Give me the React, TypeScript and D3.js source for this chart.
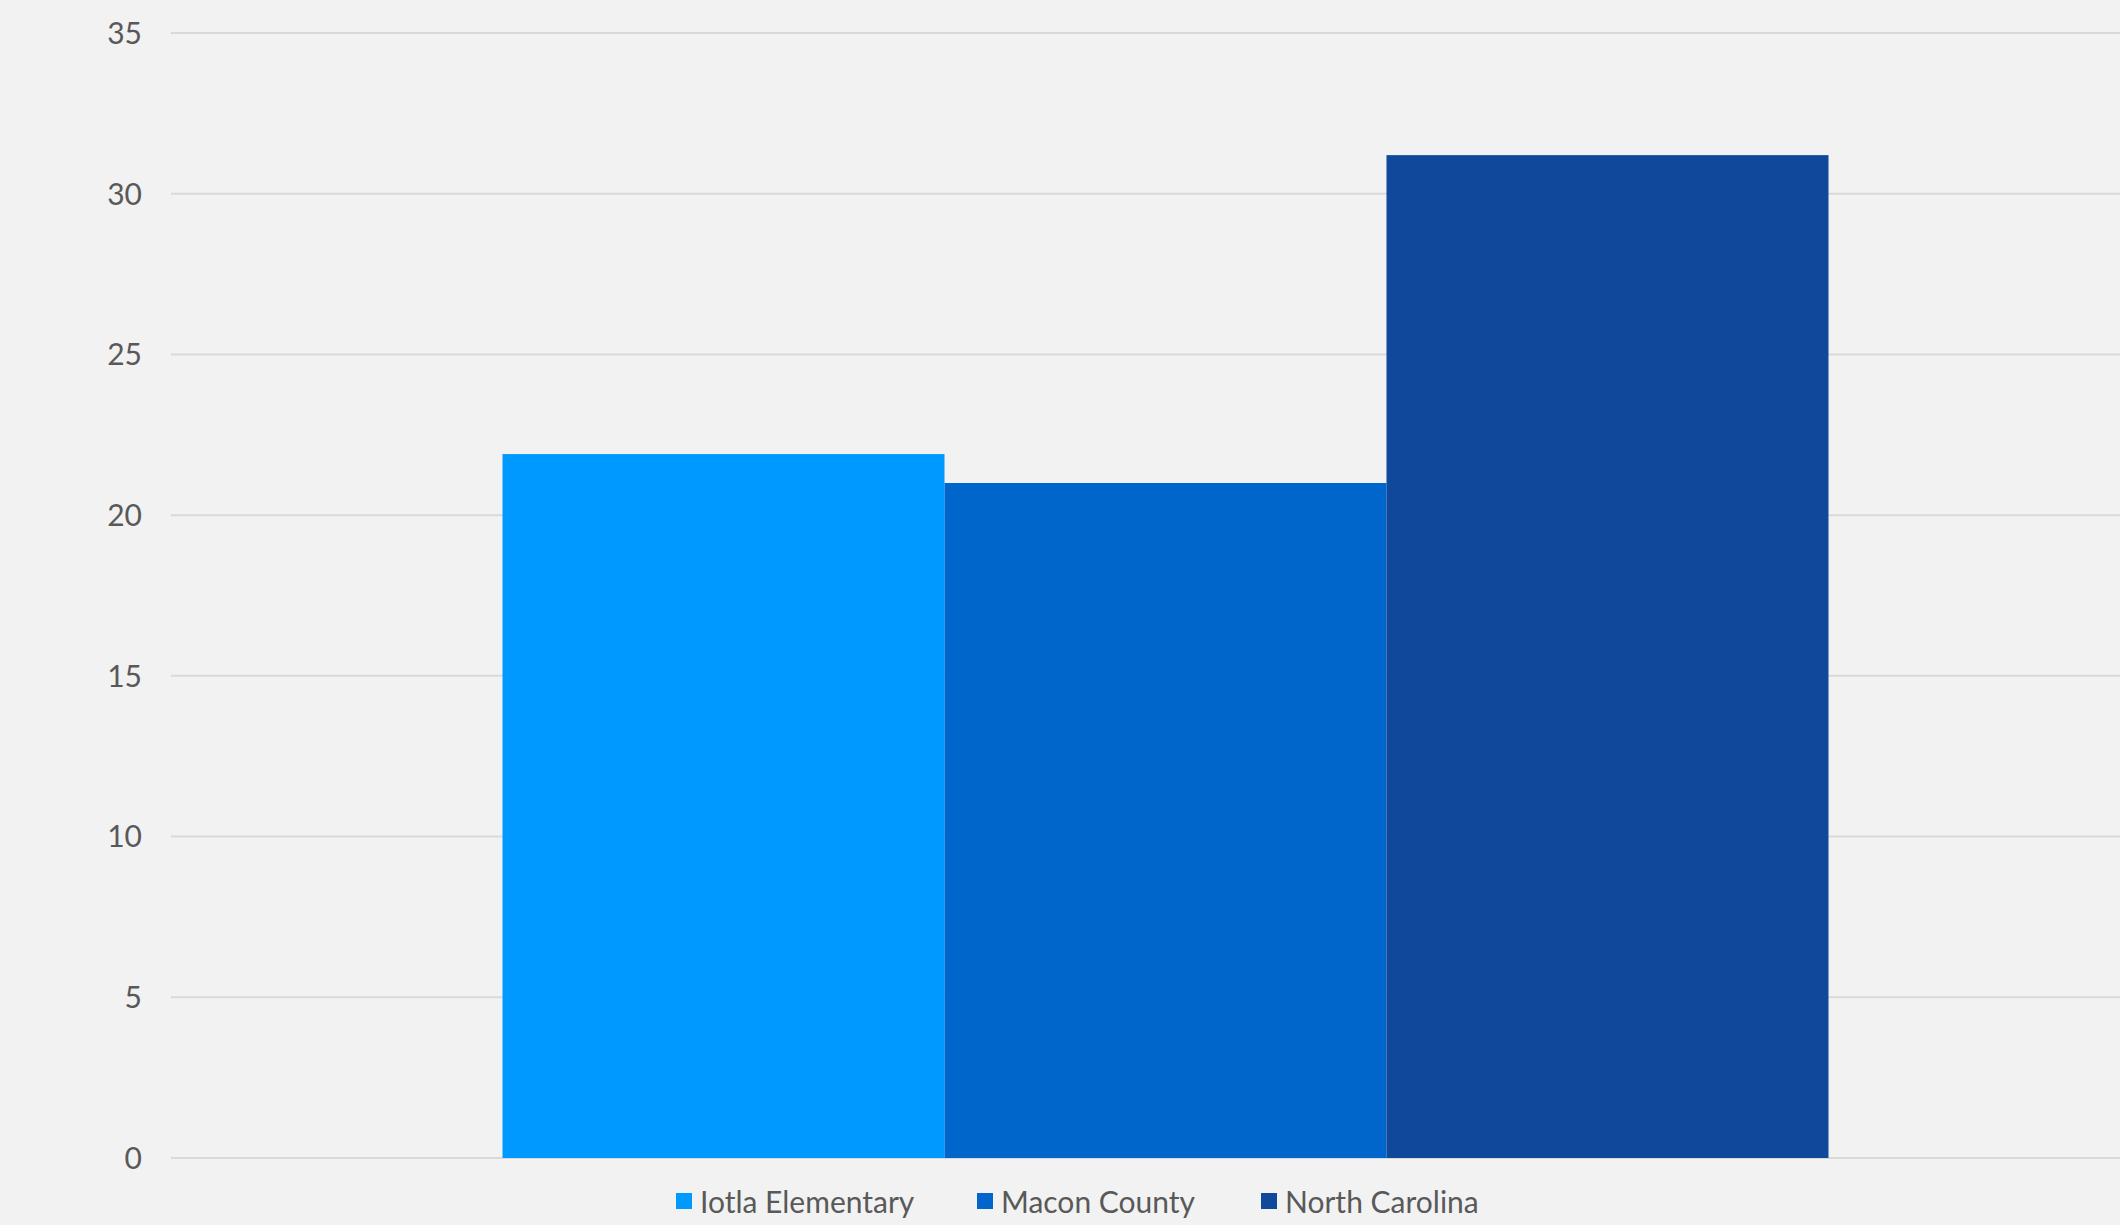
import React from "react";
import * as d3 from "d3";

const categories = [""];
const seriesNames = ["Iotla Elementary", "Macon County", "North Carolina"];
const seriesValues = [21.9, 21.0, 31.2];
const seriesColors = ["#0099FF", "#0066CC", "#10489C"];
const yTicks = [0, 5, 10, 15, 20, 25, 30, 35];

const W = 2120;
const H = 1225;
const FONT = "Lato, 'Open Sans', sans-serif";

export default function App() {
  const x0 = d3.scaleBand<string>().domain(categories).range([171, 2160]).paddingInner(0).paddingOuter(0.25);
  const x1 = d3.scaleBand<string>().domain(seriesNames).range([0, x0.bandwidth()]).padding(0);
  const y = d3.scaleLinear().domain([0, 35]).range([1158, 33]);

  const legendX = [676, 977, 1261];

  return (
    <svg width={W} height={H} style={{ position: "absolute", left: 0, top: 0, display: "block" }} fontFamily={FONT}>
      <rect x={0} y={0} width={W} height={H} fill="#F2F2F2" />
      {yTicks.map((t) => (
        <g key={t}>
          <line x1={171} x2={W} y1={y(t)} y2={y(t)} stroke="#D9D9D9" strokeWidth={2} />
          <text x={142} y={y(t)} dy="0.36em" textAnchor="end" fontSize={30} fill="#595959">
            {t}
          </text>
        </g>
      ))}
      {categories.map((c) => (
        <g key={c} transform={`translate(${x0(c)},0)`}>
          {seriesNames.map((s, i) => (
            <rect
              key={s}
              x={x1(s)}
              y={y(seriesValues[i])}
              width={x1.bandwidth()}
              height={y(0) - y(seriesValues[i])}
              fill={seriesColors[i]}
            />
          ))}
        </g>
      ))}
      {seriesNames.map((s, i) => (
        <g key={s} transform={`translate(${legendX[i]},0)`}>
          <rect x={0} y={1193} width={16} height={16} fill={seriesColors[i]} />
          <text x={24} y={1213} fontSize={30} fill="#595959">
            {s}
          </text>
        </g>
      ))}
    </svg>
  );
}
